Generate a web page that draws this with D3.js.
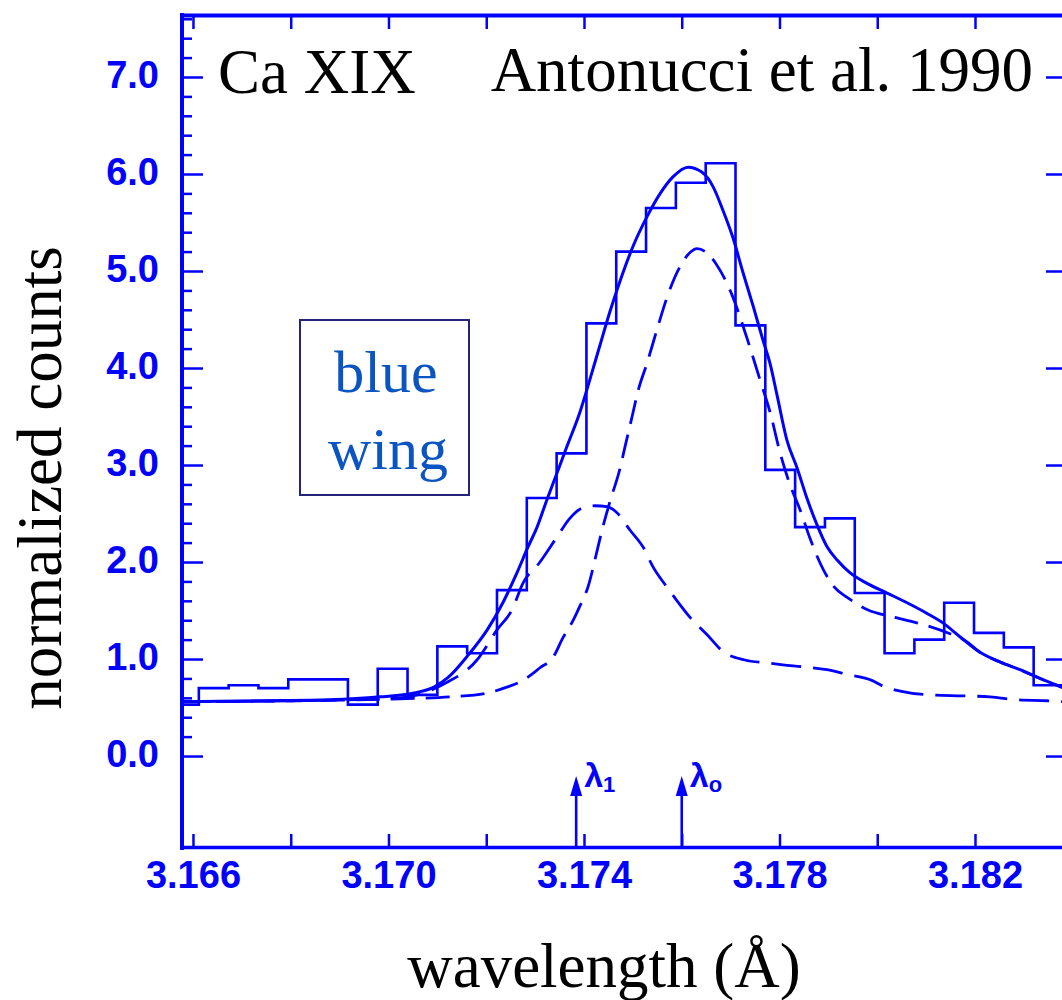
<!DOCTYPE html>
<html><head><meta charset="utf-8">
<script src="https://cdn.jsdelivr.net/npm/d3@7"></script>
<style>body{margin:0;background:#fff}svg{display:block}</style>
</head><body>
<svg id="chart" width="1062" height="1000"></svg>
<script>
// ---- data ----
const binEdges = [3.16551, 3.16612, 3.16673, 3.16734, 3.16795, 3.16856, 3.16917, 3.16978, 3.17039, 3.17100,
  3.17161, 3.17222, 3.17283, 3.17344, 3.17405, 3.17466, 3.17527, 3.17588, 3.17649, 3.17710,
  3.17771, 3.17832, 3.17893, 3.17954, 3.18015, 3.18076, 3.18137, 3.18198, 3.18259, 3.18320, 3.18381];
const binCounts = [0.53, 0.70, 0.73, 0.70, 0.79, 0.79, 0.53, 0.90, 0.63, 1.13,
  1.06, 1.71, 2.66, 3.12, 4.46, 5.20, 5.65, 5.91, 6.11, 4.44,
  2.95, 2.36, 2.45, 1.68, 1.06, 1.20, 1.58, 1.27, 1.12, 0.73];

const totalWavelength = [3.16575, 3.16737, 3.16880, 3.16983, 3.17052, 3.17093, 3.17122, 3.17163, 3.17202, 3.17234,
  3.17263, 3.17285, 3.17304, 3.17324, 3.17345, 3.17365, 3.17392, 3.17412, 3.17433, 3.17453,
  3.17474, 3.17500, 3.17529, 3.17556, 3.17582, 3.17613, 3.17641, 3.17664, 3.17684, 3.17705,
  3.17725, 3.17746, 3.17766, 3.17781, 3.17795, 3.17815, 3.17836, 3.17856, 3.17877, 3.17897,
  3.17918, 3.17944, 3.17979, 3.18020, 3.18061, 3.18102, 3.18135, 3.18169, 3.18210, 3.18251,
  3.18292, 3.18333, 3.18382];
const totalCounts = [0.56, 0.57, 0.58, 0.61, 0.65, 0.71, 0.81, 1.04, 1.30, 1.58,
  1.89, 2.15, 2.36, 2.64, 2.92, 3.19, 3.55, 3.88, 4.24, 4.58,
  4.90, 5.25, 5.56, 5.80, 5.97, 6.07, 6.02, 5.87, 5.63, 5.34,
  4.99, 4.64, 4.29, 4.04, 3.72, 3.26, 2.97, 2.66, 2.38, 2.16,
  2.02, 1.89, 1.78, 1.68, 1.58, 1.47, 1.37, 1.23, 1.07, 0.97,
  0.89, 0.80, 0.70];

const mainWavelength = [3.16575, 3.16819, 3.17024, 3.17126, 3.17202, 3.17242, 3.17275, 3.17310, 3.17337, 3.17357,
  3.17378, 3.17392, 3.17408, 3.17427, 3.17437, 3.17453, 3.17474, 3.17484, 3.17498, 3.17511,
  3.17529, 3.17549, 3.17570, 3.17596, 3.17617, 3.17631, 3.17648, 3.17672, 3.17699, 3.17734,
  3.17760, 3.17781, 3.17801, 3.17822, 3.17842, 3.17862, 3.17883, 3.17909, 3.17940, 3.17979,
  3.18036, 3.18098, 3.18149, 3.18180, 3.18210, 3.18251, 3.18292, 3.18333, 3.18382];
const mainCounts = [0.56, 0.57, 0.59, 0.61, 0.65, 0.71, 0.78, 0.91, 1.02, 1.22,
  1.40, 1.55, 1.74, 2.12, 2.33, 2.62, 2.97, 3.19, 3.49, 3.77,
  4.05, 4.39, 4.73, 5.04, 5.19, 5.23, 5.20, 5.06, 4.80, 4.30,
  3.88, 3.54, 3.13, 2.79, 2.54, 2.25, 1.99, 1.76, 1.63, 1.51,
  1.43, 1.35, 1.26, 1.19, 1.07, 0.97, 0.89, 0.80, 0.70];

const blueWavelength = [3.16575, 3.16819, 3.17024, 3.17116, 3.17181, 3.17222, 3.17253, 3.17275, 3.17310, 3.17345,
  3.17371, 3.17398, 3.17422, 3.17447, 3.17467, 3.17494, 3.17525, 3.17539, 3.17570, 3.17586,
  3.17617, 3.17652, 3.17684, 3.17729, 3.17774, 3.17807, 3.17848, 3.17897, 3.17940, 3.17989,
  3.18012, 3.18047, 3.18108, 3.18175, 3.18231, 3.18286, 3.18347, 3.18382];
const blueCounts = [0.56, 0.57, 0.60, 0.75, 0.99, 1.30, 1.51, 1.78, 2.00, 2.26,
  2.45, 2.56, 2.58, 2.57, 2.51, 2.33, 2.12, 1.97, 1.74, 1.63,
  1.43, 1.25, 1.08, 0.99, 0.96, 0.94, 0.92, 0.89, 0.84, 0.78,
  0.72, 0.67, 0.63, 0.62, 0.61, 0.58, 0.57, 0.56];

const xTickValues = [3.166, 3.168, 3.170, 3.172, 3.174, 3.176, 3.178, 3.180, 3.182];
const xTickLabels = ["3.166", "", "3.170", "", "3.174", "", "3.178", "", "3.182"];
const yTickValues = [0, 1, 2, 3, 4, 5, 6, 7];
const yTickLabels = ["0.0", "1.0", "2.0", "3.0", "4.0", "5.0", "6.0", "7.0"];
const yMinorValues = [0.2,0.4,0.6,0.8,1.2,1.4,1.6,1.8,2.2,2.4,2.6,2.8,3.2,3.4,3.6,3.8,4.2,4.4,4.6,4.8,5.2,5.4,5.6,5.8,6.2,6.4,6.6,6.8,7.2,7.4,7.6];
const lambdaMarks = [3.17384, 3.17600];
const lambdaSubs = ["1", "o"];

// ---- scales ----
const BLUE = "#0000ff";
const svg = d3.select("#chart");
const x = d3.scaleLinear().domain([3.165755, 3.183821]).range([181, 1064]);
const y = d3.scaleLinear().domain([-0.948, 7.639]).range([848, 15]);
const SANS = "'Liberation Sans', Arial, Helvetica, sans-serif";
const SERIF = "'Liberation Serif', 'Times New Roman', Times, serif";

svg.append("defs").append("clipPath").attr("id", "plotClip")
  .append("rect").attr("x", 183).attr("y", 17).attr("width", 1064 - 183).attr("height", 846 - 17);

// ---- axes ----
function styleAxis(g) {
  g.select(".domain").remove();
  g.selectAll(".tick line").attr("stroke", BLUE).attr("stroke-width", 2.5);
  g.selectAll(".tick text").attr("fill", BLUE).attr("font-family", SANS)
    .attr("font-weight", "bold").attr("font-size", 38);
}
svg.append("g").attr("transform", "translate(181,0)")
  .call(d3.axisLeft(y).tickValues(yTickValues).tickFormat((d, i) => yTickLabels[i]).tickSize(-22).tickPadding(22))
  .call(styleAxis)
  .call(g => g.selectAll(".tick text").attr("dy", "0.28em"));
svg.append("g").attr("transform", "translate(181,0)")
  .call(d3.axisLeft(y).tickValues(yMinorValues).tickFormat("").tickSize(-11))
  .call(styleAxis);
svg.append("g").attr("transform", "translate(1063,0)")
  .call(d3.axisRight(y).tickValues(yTickValues).tickFormat("").tickSize(-17))
  .call(styleAxis);
svg.append("g").attr("transform", "translate(0,848)")
  .call(d3.axisBottom(x).tickValues(xTickValues).tickFormat((d, i) => xTickLabels[i]).tickSize(-14).tickPadding(13))
  .call(styleAxis);
svg.append("g").attr("transform", "translate(0,15)")
  .call(d3.axisTop(x).tickValues(xTickValues).tickFormat("").tickSize(-14))
  .call(styleAxis);

// frame
svg.append("line").attr("x1", 182).attr("x2", 182).attr("y1", 13).attr("y2", 850).attr("stroke", BLUE).attr("stroke-width", 4);
svg.append("line").attr("x1", 180).attr("x2", 1066).attr("y1", 15.5).attr("y2", 15.5).attr("stroke", BLUE).attr("stroke-width", 4);
svg.append("line").attr("x1", 180).attr("x2", 1066).attr("y1", 847.5).attr("y2", 847.5).attr("stroke", BLUE).attr("stroke-width", 3.5);
svg.append("line").attr("x1", 1064).attr("x2", 1064).attr("y1", 13).attr("y2", 850).attr("stroke", BLUE).attr("stroke-width", 3);

// ---- data marks ----
const plot = svg.append("g").attr("clip-path", "url(#plotClip)");

const histPts = binCounts.map((c, i) => [binEdges[i], c]);
histPts.push([binEdges[binEdges.length - 1], binCounts[binCounts.length - 1]]);
plot.append("path")
  .attr("d", d3.line().x(d => x(d[0])).y(d => y(d[1])).curve(d3.curveStepAfter)(histPts))
  .attr("fill", "none").attr("stroke", BLUE).attr("stroke-width", 2.6);

const smooth = d3.line().x(d => x(d[0])).y(d => y(d[1])).curve(d3.curveMonotoneX);
plot.append("path")
  .attr("d", smooth(blueWavelength.map((w, i) => [w, blueCounts[i]])))
  .attr("fill", "none").attr("stroke", BLUE).attr("stroke-width", 2.8).attr("stroke-dasharray", "30,12");
plot.append("path")
  .attr("d", smooth(mainWavelength.map((w, i) => [w, mainCounts[i]])))
  .attr("fill", "none").attr("stroke", BLUE).attr("stroke-width", 2.8).attr("stroke-dasharray", "24,11");
plot.append("path")
  .attr("d", smooth(totalWavelength.map((w, i) => [w, totalCounts[i]])))
  .attr("fill", "none").attr("stroke", BLUE).attr("stroke-width", 3);

// ---- lambda markers ----
lambdaMarks.forEach((w, i) => {
  const ax = x(w);
  const g = svg.append("g");
  g.append("line").attr("x1", ax).attr("x2", ax).attr("y1", 847).attr("y2", 790)
    .attr("stroke", BLUE).attr("stroke-width", 2.6);
  g.append("path").attr("d", `M${ax},776 L${ax - 6},796 L${ax + 6},796 Z`).attr("fill", BLUE);
  const t = g.append("text").attr("x", ax + 8).attr("y", 787).attr("fill", BLUE)
    .attr("font-family", SANS).attr("font-weight", "bold").attr("font-size", 34);
  t.append("tspan").text("λ");
  t.append("tspan").attr("font-size", 22).attr("dy", 5).text(lambdaSubs[i]);
});

// ---- texts ----
svg.append("text").attr("x", 218).attr("y", 93).attr("font-family", SERIF).attr("font-size", 63)
  .attr("fill", "#000").text("Ca XIX");
svg.append("text").attr("x", 1033).attr("y", 91).attr("text-anchor", "end").attr("font-family", SERIF)
  .attr("font-size", 63).attr("fill", "#000").text("Antonucci et al. 1990");
svg.append("text").attr("transform", "translate(61,478) rotate(-90)").attr("text-anchor", "middle")
  .attr("font-family", SERIF).attr("font-size", 63).attr("fill", "#000").text("normalized counts");
svg.append("text").attr("x", 604).attr("y", 987).attr("text-anchor", "middle")
  .attr("font-family", SERIF).attr("font-size", 63).attr("fill", "#000").text("wavelength (Å)");

// annotation box
svg.append("rect").attr("x", 300).attr("y", 320).attr("width", 169).attr("height", 175)
  .attr("fill", "none").attr("stroke", "#24247a").attr("stroke-width", 2);
svg.append("text").attr("x", 386).attr("y", 392).attr("text-anchor", "middle").attr("font-family", SERIF)
  .attr("font-size", 60).attr("fill", "#0b55c2").text("blue");
svg.append("text").attr("x", 388).attr("y", 469).attr("text-anchor", "middle").attr("font-family", SERIF)
  .attr("font-size", 60).attr("fill", "#0b55c2").text("wing");
</script>
</body></html>
